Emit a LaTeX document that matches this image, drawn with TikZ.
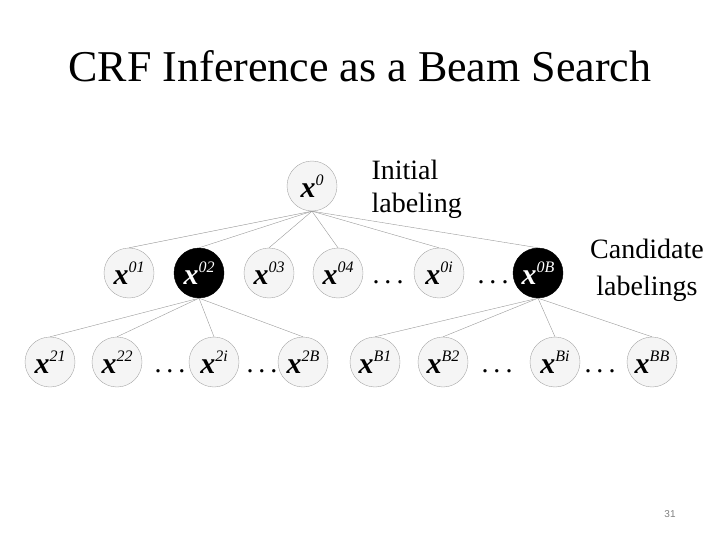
\documentclass[tikz,border=0pt]{standalone}
\usepackage{fontspec}
\setmainfont{Liberation Serif}
\newfontfamily\pagefont{Liberation Sans}
\newcommand{\xlab}[1]{{\fontsize{30}{30}\selectfont\bfseries\itshape x}\raisebox{12pt}{\fontsize{16}{16}\selectfont\itshape #1}}
\begin{document}
\begin{tikzpicture}[x=1pt,y=-1pt,
  lab/.style={circle,draw=gray!70,fill=gray!8,thin,minimum size=50pt,inner sep=0pt},
  best/.style={lab,fill=black,draw=black,text=white},
  edge/.style={gray!80,thin},
  dots/.style={font=\fontsize{28}{28}\selectfont}]
  \useasboundingbox (0,0) rectangle (720,540);
  \node[font=\fontsize{44}{44}\selectfont] (title) at (360,66) {CRF Inference as a Beam Search};
  % root and first level
  \node[lab] (n0) at (312,186) {\xlab{0}};
  \foreach \nm/\xx in {01/129, 03/269, 04/338, 0i/439}
    \node[lab] (n\nm) at (\xx,273) {\xlab{\nm}};
  \foreach \nm/\xx in {02/199, 0B/538}
    \node[best] (n\nm) at (\xx,273) {\xlab{\nm}};
  \foreach \nm in {01,02,03,04,0i,0B}
    \draw[edge] (n0.south) -- (n\nm.north);
  % second level
  \foreach \nm/\xx in {21/50, 22/117, 2i/214, 2B/303, B1/375, B2/443, Bi/555, BB/652}
    \node[lab] (n\nm) at (\xx,362) {\xlab{\nm}};
  \foreach \nm in {21,22,2i,2B}
    \draw[edge] (n02.south) -- (n\nm.north);
  \foreach \nm in {B1,B2,Bi,BB}
    \draw[edge] (n0B.south) -- (n\nm.north);
  % dots between nodes
  \foreach \nm/\xx/\yy in {d1/388/282, d2/493/282, d3/170/371, d4/262/371, d5/497/371, d6/600/371}
    \node[dots] (\nm) at (\xx,\yy) {.\hspace{5pt}.\hspace{5pt}.};
  \node[font=\fontsize{28}{33}\selectfont, align=left, anchor=west] (init) at (368,189) {Initial\\labeling};
  \node[font=\fontsize{28}{37}\selectfont, align=center] (cand) at (647,270) {Candidate\\labelings};
  \node[font=\pagefont\fontsize{10}{10}\selectfont, text=gray] (page) at (670,514) {31};
\end{tikzpicture}
\end{document}
